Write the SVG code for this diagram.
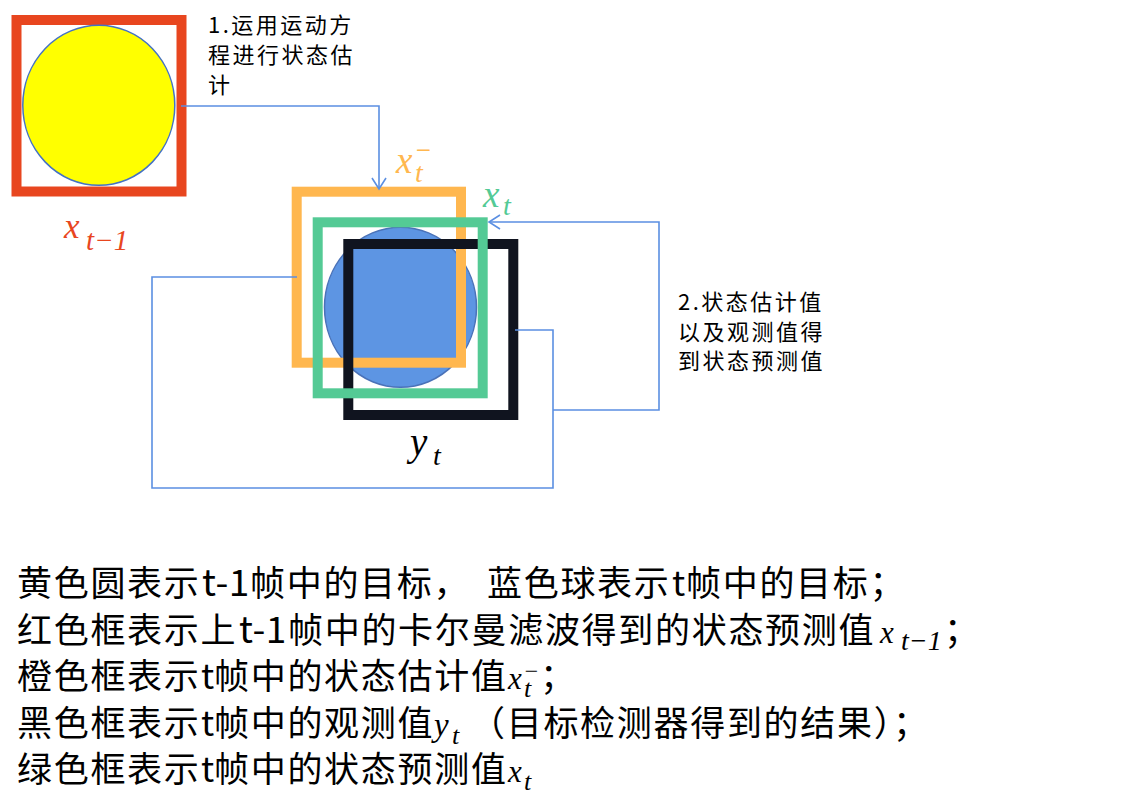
<svg xmlns="http://www.w3.org/2000/svg" width="1132" height="799" viewBox="0 0 1132 799">
<style>
.frame{fill:none;stroke-width:10}
.conn{fill:none;stroke:#5B8FE2;stroke-width:1.6}
.cjk{font-family:"Noto Sans CJK SC","Liberation Sans",sans-serif;fill:#000}
.note{font-size:22px;letter-spacing:2.5px}
.leg{font-size:35px;letter-spacing:1.7px}
.lat{font-size:37px;letter-spacing:0.5px}
.m{font-family:"Liberation Serif","DejaVu Serif",serif;font-style:italic}
</style>
<defs>
<marker id="arr" markerWidth="14" markerHeight="16" refX="12" refY="8" orient="auto" markerUnits="userSpaceOnUse">
<path d="M1,1 L12,8 L1,15" fill="none" stroke="#5B8FE2" stroke-width="1.6"/>
</marker>
</defs>
<rect width="1132" height="799" fill="#FFFFFF"/>

<g id="node-prev">
<rect class="frame" x="16.5" y="20" width="165" height="171.5" stroke="#E8461F" stroke-width="10.5"/>
<ellipse cx="98.8" cy="105.3" rx="76" ry="80" fill="#FFFF00" stroke="#4472C4" stroke-width="1.5"/>
<text class="m" fill="#E8461F"><tspan x="64" y="238" font-size="35">x</tspan><tspan x="86" y="250" font-size="29">t−1</tspan></text>
</g>

<g id="node-observed-ball">
<ellipse cx="400.5" cy="307.3" rx="76" ry="80" fill="#5D95E3" stroke="#4A72B8" stroke-width="1.5"/>
</g>

<g id="node-estimate">
<rect class="frame" x="296.7" y="191.7" width="164.3" height="171" stroke="#FFB74F"/>
<text class="m" fill="#FFB74F"><tspan x="396" y="173" font-size="37">x</tspan><tspan x="415" y="181.5" font-size="28">t</tspan><tspan x="414" y="159" font-size="27">−</tspan></text>
</g>

<g id="node-observation">
<rect class="frame" x="348.3" y="244" width="165" height="171" stroke="#10141F"/>
<text class="m" fill="#000"><tspan x="410" y="455" font-size="39">y</tspan><tspan x="433" y="465" font-size="28">t</tspan></text>
</g>

<g id="node-prediction">
<rect class="frame" x="317.7" y="222.3" width="165" height="171" stroke="#54CA95"/>
<text class="m" fill="#54CA95"><tspan x="483" y="206.5" font-size="37">x</tspan><tspan x="503" y="215" font-size="28">t</tspan></text>
</g>

<g id="connectors">
<path class="conn" d="M181,106 H379 V189" marker-end="url(#arr)"/>
<path class="conn" d="M515,330 H553 V488 H152 V277 H297"/>
<path class="conn" d="M553,410 H659 V222 H489" marker-end="url(#arr)"/>
</g>

<g id="note-1">
<text class="cjk note" x="208" y="33">1.运用运动方</text>
<text class="cjk note" x="208" y="63">程进行状态估</text>
<text class="cjk note" x="208" y="93">计</text>
</g>

<g id="note-2">
<text class="cjk note" x="678" y="310">2.状态估计值</text>
<text class="cjk note" x="678" y="339.5">以及观测值得</text>
<text class="cjk note" x="678" y="369">到状态预测值</text>
</g>

<g id="legend">
<g id="legend-1">
<text class="cjk leg" x="17" y="596">黄色圆表示</text>
<text class="cjk lat" x="202" y="596">t-1</text>
<text class="cjk leg" x="250" y="596">帧中的目标，</text>
<text class="cjk leg" x="487" y="596">蓝色球表示</text>
<text class="cjk leg" x="672" y="596">t</text>
<text class="cjk leg" x="686" y="596">帧中的目标；</text>
</g>
<g id="legend-2">
<text class="cjk leg" x="17" y="642.5">红色框表示上</text>
<text class="cjk lat" x="239" y="642.5">t-1</text>
<text class="cjk leg" x="288" y="642.5">帧中的卡尔曼滤波得到的状态预测值</text>
<text class="m" x="880" y="643" font-size="31">x</text>
<text class="m" x="901" y="650" font-size="28">t−1</text>
<text class="cjk leg" x="944" y="642.5">；</text>
</g>
<g id="legend-3">
<text class="cjk leg" x="17" y="689">橙色框表示</text>
<text class="cjk leg" x="201" y="689">t</text>
<text class="cjk leg" x="214" y="689">帧中的状态估计值</text>
<text class="m" x="508" y="689" font-size="31">x</text>
<text class="m" x="524" y="697" font-size="26">t</text>
<text class="m" x="523" y="679" font-size="24">−</text>
<text class="cjk leg" x="540" y="689">；</text>
</g>
<g id="legend-4">
<text class="cjk leg" x="17" y="735.5">黑色框表示</text>
<text class="cjk leg" x="201" y="735.5">t</text>
<text class="cjk leg" x="214" y="735.5">帧中的观测值</text>
<text class="m" x="434" y="735.5" font-size="33">y</text>
<text class="m" x="452" y="744" font-size="26">t</text>
<text class="cjk leg" x="470" y="735.5">（目标检测器得到的结果）；</text>
</g>
<g id="legend-5">
<text class="cjk leg" x="17" y="782">绿色框表示</text>
<text class="cjk leg" x="201" y="782">t</text>
<text class="cjk leg" x="214" y="782">帧中的状态预测值</text>
<text class="m" x="508" y="782" font-size="31">x</text>
<text class="m" x="524" y="790" font-size="26">t</text>
</g>
</g>
</svg>
